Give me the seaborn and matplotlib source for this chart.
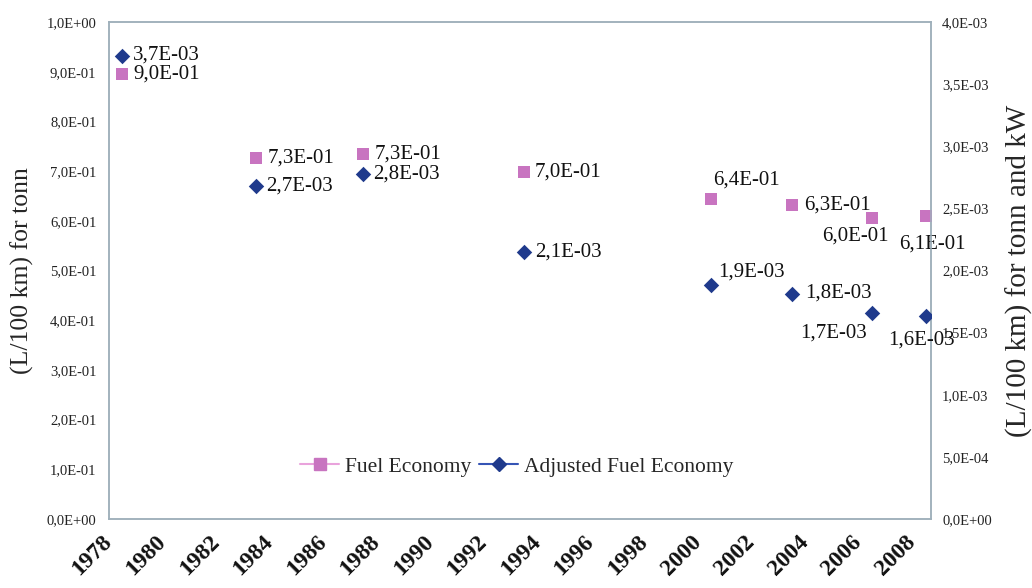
import matplotlib
matplotlib.use("Agg")
import seaborn as sns
from matplotlib import pyplot as plt
import matplotlib.ticker as mtick
from matplotlib.lines import Line2D

# values
years = [1978.5, 1983.5, 1987.5, 1993.5, 2000.5, 2003.5, 2006.5, 2008.5]
fuel_economy = [0.895, 0.726, 0.734, 0.698, 0.644, 0.632, 0.606, 0.610]
adjusted_fuel_economy = [3.73e-3, 2.68e-3, 2.78e-3, 2.15e-3, 1.88e-3, 1.81e-3, 1.66e-3, 1.63e-3]
fuel_labels = ["9,0E-01", "7,3E-01", "7,3E-01", "7,0E-01", "6,4E-01", "6,3E-01", "6,0E-01", "6,1E-01"]
adjusted_labels = ["3,7E-03", "2,7E-03", "2,8E-03", "2,1E-03", "1,9E-03", "1,8E-03", "1,7E-03", "1,6E-03"]
year_ticks = list(range(1978, 2009, 2))

# label placement (pixel offsets from the marker, alignment)
fuel_offsets = [(11, 0, "left"), (11, 0, "left"), (11, 0, "left"), (11, 0, "left"),
                (2, 19, "left"), (12, 0, "left"), (-17, -18, "center"), (7, -28, "center")]
adjusted_offsets = [(11, 0, "left"), (10, 0, "left"), (10, 0, "left"), (11, 0, "left"),
                    (7, 13, "left"), (13, 1, "left"), (-39, -20, "center"), (-4, -24, "center")]

PINK = "#c874c0"
BLUE = "#1f3a8c"
FRAME = "#9fb0bb"

sns.set_style("white")
plt.rcParams["font.family"] = ["Liberation Serif", "DejaVu Serif"]


def excel_sci(v, pos=None):
    return f"{v:.1E}".replace(".", ",")


fig = plt.figure(figsize=(10.32, 5.88), dpi=100)
ax = fig.add_axes([0.1056, 0.1173, 0.7965, 0.8453])
ax2 = ax.twinx()

sns.scatterplot(x=years, y=fuel_economy, marker="s", s=75, color=PINK,
                edgecolor=PINK, linewidth=0, ax=ax, zorder=3)
sns.scatterplot(x=years, y=adjusted_fuel_economy, marker="D", s=62, color=BLUE,
                edgecolor=BLUE, linewidth=0, ax=ax2, zorder=3)

for x, y, txt, (dx, dy, ha) in zip(years, fuel_economy, fuel_labels, fuel_offsets):
    ax.annotate(txt, (x, y), xytext=(dx, dy), textcoords="offset pixels",
                ha=ha, va="center", fontsize=15, color="#111111")
for x, y, txt, (dx, dy, ha) in zip(years, adjusted_fuel_economy, adjusted_labels, adjusted_offsets):
    ax2.annotate(txt, (x, y), xytext=(dx, dy), textcoords="offset pixels",
                 ha=ha, va="center", fontsize=15, color="#111111")

ax.set_xlim(1978, 2008.7)
ax.set_ylim(0, 1)
ax2.set_ylim(0, 4e-3)
ax.set_yticks([i / 10 for i in range(11)])
ax2.set_yticks([i * 5e-4 for i in range(9)])
ax.yaxis.set_major_formatter(mtick.FuncFormatter(excel_sci))
ax2.yaxis.set_major_formatter(mtick.FuncFormatter(excel_sci))
ax.set_xticks(year_ticks)
ax.set_xticklabels([str(y) for y in year_ticks], rotation=45, ha="right",
                   va="center", rotation_mode="anchor", fontsize=17,
                   fontweight="bold", color="#111111")

ax.tick_params(axis="y", length=0, pad=9, labelsize=10.5, labelcolor="#222222")
ax2.tick_params(axis="y", length=0, pad=8, labelsize=10.5, labelcolor="#222222")
ax.tick_params(axis="x", length=0, pad=14)

for a in (ax, ax2):
    for sp in a.spines.values():
        sp.set_visible(True)
        sp.set_color(FRAME)
        sp.set_linewidth(1.1)

ax.set_ylabel("(L/100 km) for tonn", fontsize=18.5, labelpad=9)
ax2.set_ylabel("(L/100 km) for tonn and kW", fontsize=21, labelpad=10)

handles = [
    Line2D([], [], color="#e9a3dc", lw=1.5, marker="s", markersize=8,
           markerfacecolor=PINK, markeredgecolor=PINK, label="Fuel Economy"),
    Line2D([], [], color="#3554b5", lw=1.5, marker="D", markersize=7,
           markerfacecolor=BLUE, markeredgecolor=BLUE, label="Adjusted Fuel Economy"),
]
ax.legend(handles=handles, loc="center", bbox_to_anchor=(0.496, 0.105), ncol=2,
          frameon=False, fontsize=15.5, handlelength=1.8, handletextpad=0.25,
          columnspacing=0.4)

fig.savefig("out.png", dpi=100)
